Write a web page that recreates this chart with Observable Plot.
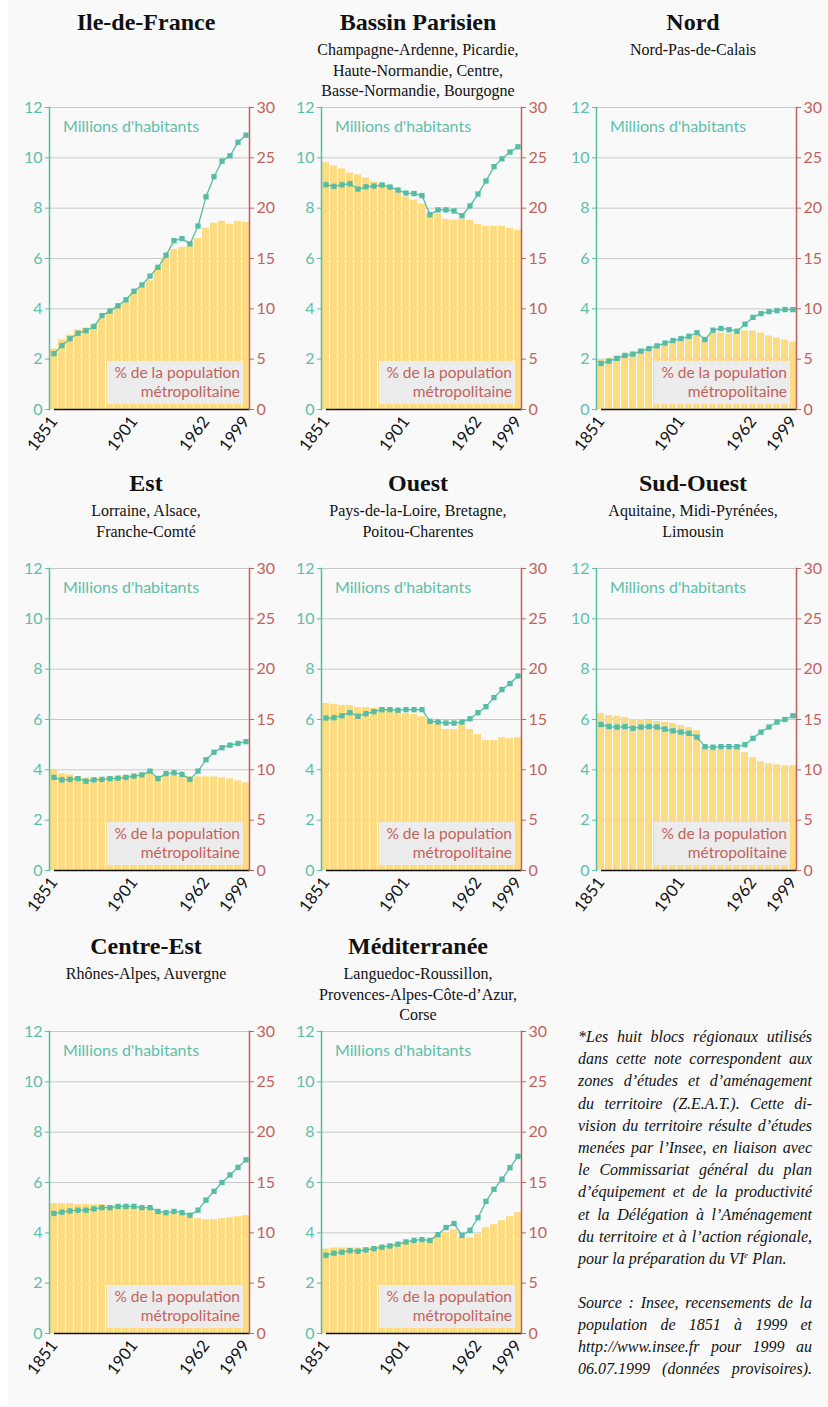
<!DOCTYPE html>
<html><head><meta charset="utf-8">
<script src="https://cdn.jsdelivr.net/npm/d3@7"></script>
<script src="https://cdn.jsdelivr.net/npm/@observablehq/plot@0.6"></script>
<style>
body{margin:0;background:#fff;}
#page{position:relative;width:828px;height:1407px;overflow:hidden;}
#bg{position:absolute;left:8px;top:0;right:0;bottom:0;background:#f9f9f9;}
.panel{position:absolute;width:273px;height:460px;}
.title{position:absolute;left:6px;width:280px;top:8px;text-align:center;font-family:"Liberation Serif",serif;font-weight:bold;font-size:24px;line-height:28px;color:#111;}
.sub{position:absolute;left:6px;width:280px;top:40px;text-align:center;font-family:"Liberation Serif",serif;font-size:16px;line-height:20.5px;color:#111;}
.svgwrap{position:absolute;left:0;top:99px;}
.mil{position:absolute;left:63px;top:116px;font-family:Lato,sans-serif;font-size:16px;line-height:20px;color:#5cc0aa;white-space:nowrap;}
.leg{position:absolute;left:107px;top:361px;width:133px;padding-right:3px;height:41px;background:#ececec;text-align:right;font-family:Lato,sans-serif;font-size:15.5px;line-height:19px;color:#c2625c;padding-top:2px;box-sizing:content-box;}
#note{position:absolute;left:578px;top:1026px;width:234px;font-family:"Liberation Serif",serif;font-style:italic;font-size:16px;color:#111;}
#note div{height:22.2px;line-height:22.2px;text-align:justify;text-align-last:justify;white-space:nowrap;}
#note div.last{text-align-last:left;}
#src{position:absolute;left:578px;top:1292px;width:234px;font-family:"Liberation Serif",serif;font-style:italic;font-size:16px;color:#111;}
#src div{height:22px;line-height:22px;text-align:justify;text-align-last:justify;white-space:nowrap;}
svg{overflow:visible;}
</style>
</head><body>
<div id="page"><div id="bg"></div></div>
<script>
const years = [1851,1856,1861,1866,1872,1876,1881,1886,1891,1896,1901,1906,1911,1921,1926,1931,1936,1946,1954,1962,1968,1975,1982,1990,1999];
const xTickYears = [1851,1901,1962,1999];
const leftTicks = [0,2,4,6,8,10,12];
const rightTicks = [0,5,10,15,20,25,30];

const regionNames = ["Ile-de-France","Bassin Parisien","Nord","Est","Ouest","Sud-Ouest","Centre-Est","Méditerranée"];
const regionSubs = [
  [],
  ["Champagne-Ardenne, Picardie,","Haute-Normandie, Centre,","Basse-Normandie, Bourgogne"],
  ["Nord-Pas-de-Calais"],
  ["Lorraine, Alsace,","Franche-Comté"],
  ["Pays-de-la-Loire, Bretagne,","Poitou-Charentes"],
  ["Aquitaine, Midi-Pyrénées,","Limousin"],
  ["Rhônes-Alpes, Auvergne"],
  ["Languedoc-Roussillon,","Provences-Alpes-Côte-d’Azur,","Corse"]
];

// population, millions
const popIDF = [2.22,2.54,2.81,3.03,3.13,3.30,3.73,3.91,4.12,4.36,4.70,4.95,5.30,5.65,6.13,6.71,6.79,6.58,7.29,8.45,9.25,9.87,10.08,10.62,10.90];
const popBP  = [8.93,8.87,8.93,8.97,8.76,8.85,8.88,8.92,8.84,8.72,8.60,8.58,8.50,7.74,7.93,7.93,7.89,7.70,8.09,8.56,9.08,9.65,9.96,10.23,10.44];
const popNord= [1.83,1.92,2.03,2.15,2.20,2.32,2.42,2.53,2.64,2.74,2.82,2.91,3.05,2.78,3.15,3.22,3.17,3.11,3.39,3.66,3.81,3.89,3.93,3.97,3.97];
const popEst = [3.70,3.60,3.62,3.65,3.55,3.60,3.62,3.65,3.67,3.70,3.75,3.80,3.95,3.65,3.85,3.88,3.82,3.62,3.95,4.40,4.70,4.88,4.98,5.05,5.12];
const popOu  = [6.06,6.07,6.15,6.27,6.13,6.23,6.31,6.39,6.39,6.37,6.39,6.39,6.39,5.93,5.90,5.86,5.86,5.90,6.03,6.27,6.51,6.87,7.19,7.43,7.73];
const popSO  = [5.80,5.72,5.70,5.72,5.65,5.70,5.72,5.70,5.62,5.55,5.50,5.45,5.30,4.92,4.90,4.92,4.92,4.92,5.00,5.25,5.50,5.70,5.90,6.00,6.15];
const popCE  = [4.77,4.82,4.87,4.90,4.90,4.95,5.00,5.00,5.05,5.05,5.05,5.00,5.00,4.85,4.80,4.85,4.80,4.70,4.90,5.30,5.65,6.00,6.30,6.60,6.90];
const popMed = [3.11,3.19,3.23,3.29,3.27,3.32,3.37,3.43,3.48,3.55,3.64,3.70,3.73,3.70,3.93,4.21,4.37,3.90,4.10,4.60,5.25,5.73,6.13,6.59,7.04];

// share of metropolitan population, %
const pctIDF = [6.0,6.9,7.4,7.9,8.1,8.4,9.0,9.7,10.2,10.7,11.5,12.1,12.8,14.1,15.1,15.9,16.1,16.2,17.0,18.0,18.5,18.7,18.4,18.7,18.6];
const pctBP  = [24.5,24.2,23.9,23.5,23.3,23.0,22.6,22.4,22.2,21.7,21.1,20.8,20.4,19.4,19.4,18.9,18.8,18.9,18.8,18.4,18.2,18.2,18.2,18.0,17.8];
const pctNord= [4.9,5.1,5.3,5.5,5.7,5.9,6.1,6.3,6.5,6.7,6.9,7.1,7.3,7.05,7.6,7.6,7.5,7.5,7.8,7.8,7.6,7.3,7.1,6.9,6.7];
const pctEst = [10.0,9.6,9.5,9.3,9.2,9.2,9.2,9.3,9.3,9.4,9.5,9.6,9.7,9.4,9.4,9.4,9.3,9.3,9.3,9.3,9.3,9.2,9.1,8.9,8.7];
const pctOu  = [16.6,16.5,16.4,16.4,16.2,16.2,16.1,16.1,16.0,15.9,15.6,15.5,15.3,15.0,14.5,14.0,14.0,14.5,14.0,13.5,12.9,12.9,13.2,13.1,13.2];
const pctSO  = [15.6,15.4,15.3,15.2,15.0,15.0,14.9,14.8,14.7,14.6,14.4,14.2,13.9,12.2,12.0,12.0,12.0,12.3,11.7,11.2,10.8,10.6,10.5,10.4,10.4];
const pctCE  = [12.9,12.9,12.9,12.8,12.8,12.8,12.8,12.7,12.7,12.7,12.6,12.5,12.4,12.1,12.0,11.9,11.8,11.7,11.4,11.3,11.3,11.4,11.5,11.6,11.7];
const pctMed = [8.4,8.5,8.5,8.5,8.5,8.5,8.6,8.7,8.8,8.9,9.1,9.1,9.0,9.3,9.8,10.0,10.3,9.5,9.5,9.9,10.5,10.8,11.2,11.6,12.0];

const pops = [popIDF,popBP,popNord,popEst,popOu,popSO,popCE,popMed];
const pcts = [pctIDF,pctBP,pctNord,pctEst,pctOu,pctSO,pctCE,pctMed];

const footLines = [
  "*Les huit blocs régionaux utilisés",
  "dans cette note correspondent aux",
  "zones d’études et d’aménagement",
  "du territoire (Z.E.A.T.). Cette di-",
  "vision du territoire résulte d’études",
  "menées par l’Insee, en liaison avec",
  "le Commissariat général du plan",
  "d’équipement et de la productivité",
  "et la Délégation à l’Aménagement",
  "du territoire et à l’action régionale,",
  "pour la préparation du VI<sup style='font-size:9px;line-height:0'>e</sup> Plan."
];
const srcLines = [
  "Source : Insee, recensements de la",
  "population de 1851 à 1999 et",
  "http://www.insee.fr pour 1999 au",
  "06.07.1999 (données provisoires)."
];

const teal = "#55bda6", tealText = "#5cc0aa", red = "#c2625c", barFill = "#fbdc82";
const colX = [0, 272, 547];
const rowY = [0, 461, 924];
const scale = 2.5; // % per million on the shared vertical axis

function makeChart(pop, pct) {
  const data = years.map((y, i) => ({year: y, pop: pop[i], pct: pct[i]}));
  return Plot.plot({
    width: 273, height: 8 + 302 + 50,
    marginLeft: 49, marginRight: 24, marginTop: 8, marginBottom: 50,
    style: {background: "transparent", fontFamily: "Lato, sans-serif", overflow: "visible"},
    x: {type: "band", domain: years, paddingInner: 0.18, paddingOuter: 0.04},
    y: {domain: [0, 12]},
    marks: [
      Plot.gridY(leftTicks.slice(1), {stroke: "#c9c9c9", strokeOpacity: 1}),
      Plot.barY(data, {x: "year", y: d => d.pct / scale, fill: barFill}),
      Plot.ruleY([0], {stroke: "#111", strokeWidth: 1.6, insetLeft: 5}),
      Plot.line(data, {x: "year", y: "pop", stroke: teal, strokeWidth: 1.3}),
      Plot.dot(data, {x: "year", y: "pop", symbol: "square", r: 3, fill: teal, stroke: "none"}),
      Plot.axisY({anchor: "left", ticks: leftTicks, tickSize: 4, tickPadding: 3, color: tealText, fontSize: 16, label: null}),
      Plot.axisY({anchor: "right", ticks: rightTicks.map(v => v / scale), tickFormat: v => String(Math.round(v * scale)), tickSize: 4, tickPadding: 3, color: red, fontSize: 16, label: null}),
      Plot.axisX({ticks: xTickYears, tickFormat: d => String(d), tickRotate: -53, tickSize: 0, tickPadding: 9, fontSize: 16.5, color: "#111", label: null}),
      Plot.frame({anchor: "left", stroke: teal, strokeWidth: 1.5}),
      Plot.frame({anchor: "right", stroke: red, strokeWidth: 1.5})
    ]
  });
}

const page = document.getElementById("page");
regionNames.forEach((name, k) => {
  const col = k % 3, row = Math.floor(k / 3);
  const p = document.createElement("div");
  p.className = "panel";
  p.style.left = colX[col] + "px";
  p.style.top = rowY[row] + "px";
  const t = document.createElement("div"); t.className = "title"; t.textContent = name; p.appendChild(t);
  const s = document.createElement("div"); s.className = "sub"; s.innerHTML = regionSubs[k].join("<br>"); p.appendChild(s);
  const w = document.createElement("div"); w.className = "svgwrap"; w.appendChild(makeChart(pops[k], pcts[k])); p.appendChild(w);
  const m = document.createElement("div"); m.className = "mil"; m.textContent = "Millions d'habitants"; p.appendChild(m);
  const l = document.createElement("div"); l.className = "leg"; l.innerHTML = "% de la population<br>métropolitaine"; p.appendChild(l);
  page.appendChild(p);
});

const note = document.createElement("div"); note.id = "note";
note.innerHTML = footLines.map((s, i) => `<div class="${i === footLines.length - 1 ? "last" : ""}">${s}</div>`).join("");
page.appendChild(note);
const src = document.createElement("div"); src.id = "src";
src.innerHTML = srcLines.map(s => `<div>${s}</div>`).join("");
page.appendChild(src);
</script>
</body></html>
